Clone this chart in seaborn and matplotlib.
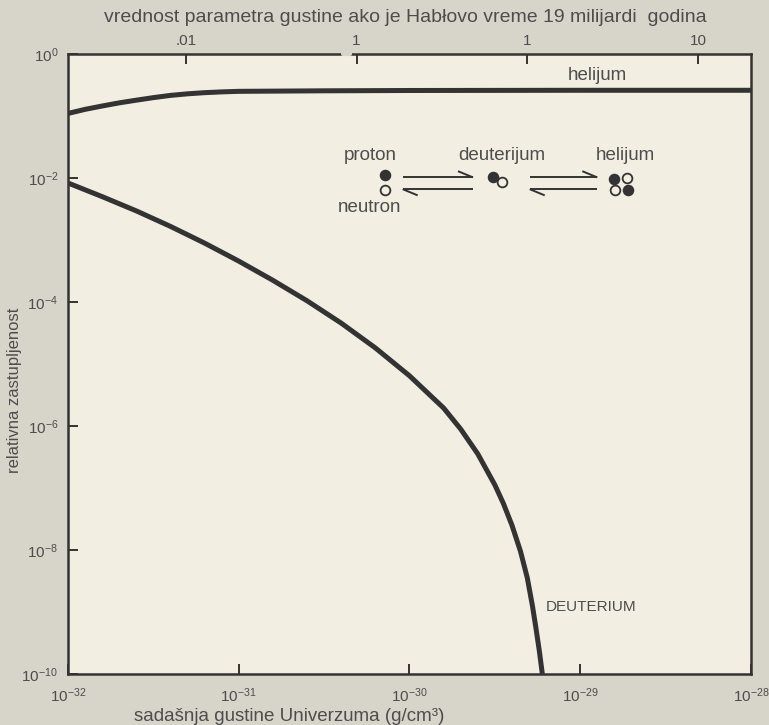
import numpy as np
import pandas as pd
import seaborn as sns
import matplotlib
matplotlib.use("Agg")
import matplotlib.pyplot as plt

# values (density and abundance as log10)
helium_log_density = [-32.0, -31.9, -31.8, -31.7, -31.6, -31.5, -31.4, -31.3, -31.2,
                      -31.1, -31.0, -30.5, -30.0, -29.0, -28.0]
helium_abundance = [0.11, 0.128, 0.145, 0.163, 0.18, 0.198, 0.215, 0.228, 0.238,
                    0.245, 0.25, 0.255, 0.258, 0.26, 0.26]

deut_log_density = [-32.0, -31.8, -31.6, -31.4, -31.2, -31.0, -30.8, -30.6, -30.4,
                    -30.2, -30.0, -29.8, -29.7, -29.6, -29.5, -29.45, -29.4, -29.35,
                    -29.31, -29.28, -29.26, -29.24, -29.222]
deut_log_abundance = [-2.08, -2.30, -2.53, -2.78, -3.05, -3.34, -3.65, -3.98, -4.34,
                      -4.74, -5.19, -5.71, -6.05, -6.45, -6.95, -7.25, -7.60, -8.02,
                      -8.45, -8.90, -9.25, -9.62, -10.0]

x_ticks = [1e-32, 1e-31, 1e-30, 1e-29, 1e-28]
x_ticklabels = [r"$10^{-32}$", r"$10^{-31}$", r"$10^{-30}$", r"$10^{-29}$", r"$10^{-28}$"]
y_ticks = [1e0, 1e-2, 1e-4, 1e-6, 1e-8, 1e-10]
y_ticklabels = [r"$10^{0}$", r"$10^{-2}$", r"$10^{-4}$", r"$10^{-6}$", r"$10^{-8}$", r"$10^{-10}$"]
top_log_ticks = [-31.31, -30.31, -29.31, -28.31]
top_ticklabels = [".01", "1", "1", "10"]

bg_outer = "#d7d4ca"
bg_inner = "#f2eee2"
ink = "#333333"
text_col = "#4d4d4d"

sns.set_theme(style="ticks")
plt.rcParams["font.family"] = ["Liberation Sans", "DejaVu Sans"]
plt.rcParams["mathtext.fontset"] = "custom"
plt.rcParams["mathtext.rm"] = "Liberation Sans"
plt.rcParams["mathtext.it"] = "Liberation Sans"

df = pd.concat([
  pd.DataFrame({"density": 10.0 ** np.array(helium_log_density),
                "abundance": helium_abundance, "element": "helijum"}),
  pd.DataFrame({"density": 10.0 ** np.array(deut_log_density),
                "abundance": 10.0 ** np.array(deut_log_abundance), "element": "deuterium"}),
])

fig = plt.figure(figsize=(7.69, 7.25), dpi=100, facecolor=bg_outer)
ax = fig.add_axes([0.0884, 0.0703, 0.8882, 0.8552])
ax.set_facecolor(bg_inner)

sns.lineplot(data=df, x="density", y="abundance", units="element", estimator=None,
             color=ink, linewidth=3.6, sort=False, ax=ax, legend=False,
             solid_capstyle="butt", solid_joinstyle="round")

ax.set_xscale("log")
ax.set_yscale("log")
ax.set_xlim(1e-32, 1e-28)
ax.set_ylim(1e-10, 1e0)
ax.set_xticks(x_ticks)
ax.set_xticklabels(x_ticklabels)
ax.set_yticks(y_ticks)
ax.set_yticklabels(y_ticklabels)
ax.minorticks_off()
ax.tick_params(direction="in", length=7, width=1.4, color=ink, labelcolor=text_col,
               labelsize=11)
ax.tick_params(axis="x", pad=9)
ax.tick_params(axis="y", pad=7)

for side in ["left", "right", "top", "bottom"]:
  ax.spines[side].set_visible(True)
  ax.spines[side].set_color(ink)
  ax.spines[side].set_linewidth(1.8)

top = ax.secondary_xaxis("top")
top.set_xticks(10.0 ** np.array(top_log_ticks))
top.set_xticklabels(top_ticklabels)
top.minorticks_off()
top.tick_params(direction="in", length=7, width=1.4, color=ink, labelcolor=text_col,
                labelsize=11, pad=4)
top.spines["top"].set_visible(False)

# small break in the top axis line
ax.plot([0.403, 0.413], [1.0, 1.0], transform=ax.transAxes, color=bg_outer,
        linewidth=3, clip_on=False, zorder=5)

ax.set_xlabel("sadašnja gustine Univerzuma (g/cm³)", fontsize=13.5, color=text_col, va="center")
ax.xaxis.set_label_coords(0.324, -0.069)
ax.set_ylabel("relativna zastupljenost", fontsize=12, color=text_col, va="center")
ax.yaxis.set_label_coords(-0.078, 0.458)
fig.text(0.527, 1 - 17 / 725, "vrednost parametra gustine ako je Habłovo vreme 19 milijardi  godina",
         ha="center", va="center", fontsize=14, color=text_col)

ax.text(0.775, 0.966, "helijum", transform=ax.transAxes, ha="center", va="center",
        fontsize=13.5, color=text_col)
ax.text(0.70, 0.108, "DEUTERIUM", transform=ax.transAxes, ha="left", va="center",
        fontsize=11, color=text_col)

# reaction sketch: proton + neutron <-> deuterium <-> helium
kw = dict(transform=ax.transAxes, ha="center", va="center", fontsize=13.5, color=text_col)
ax.text(0.442, 0.837, "proton", **kw)
ax.text(0.442, 0.752, "neutron", **kw)
ax.text(0.635, 0.837, "deuterijum", **kw)
ax.text(0.816, 0.837, "helijum", **kw)

def nucleon(x, y, filled):
  ax.plot([x], [y], marker="o", markersize=7, transform=ax.transAxes, clip_on=False,
          markerfacecolor=ink if filled else bg_inner, markeredgecolor=ink,
          markeredgewidth=1.3, zorder=6)

nucleon(0.464, 0.805, True)
nucleon(0.464, 0.780, False)
nucleon(0.622, 0.802, True)
nucleon(0.635, 0.793, False)
nucleon(0.800, 0.798, True)
nucleon(0.819, 0.800, False)
nucleon(0.801, 0.780, False)
nucleon(0.820, 0.780, True)

def harpoons(x0, x1, y_up, y_dn):
  lk = dict(transform=ax.transAxes, color=ink, linewidth=1.4, solid_capstyle="butt")
  ax.plot([x0, x1], [y_up, y_up], **lk)
  ax.plot([x1, x1 - 0.022], [y_up, y_up + 0.010], **lk)
  ax.plot([x0, x1], [y_dn, y_dn], **lk)
  ax.plot([x0, x0 + 0.022], [y_dn, y_dn - 0.010], **lk)

harpoons(0.490, 0.593, 0.801, 0.782)
harpoons(0.676, 0.775, 0.801, 0.782)

fig.savefig("out.png", dpi=100, facecolor=bg_outer)
